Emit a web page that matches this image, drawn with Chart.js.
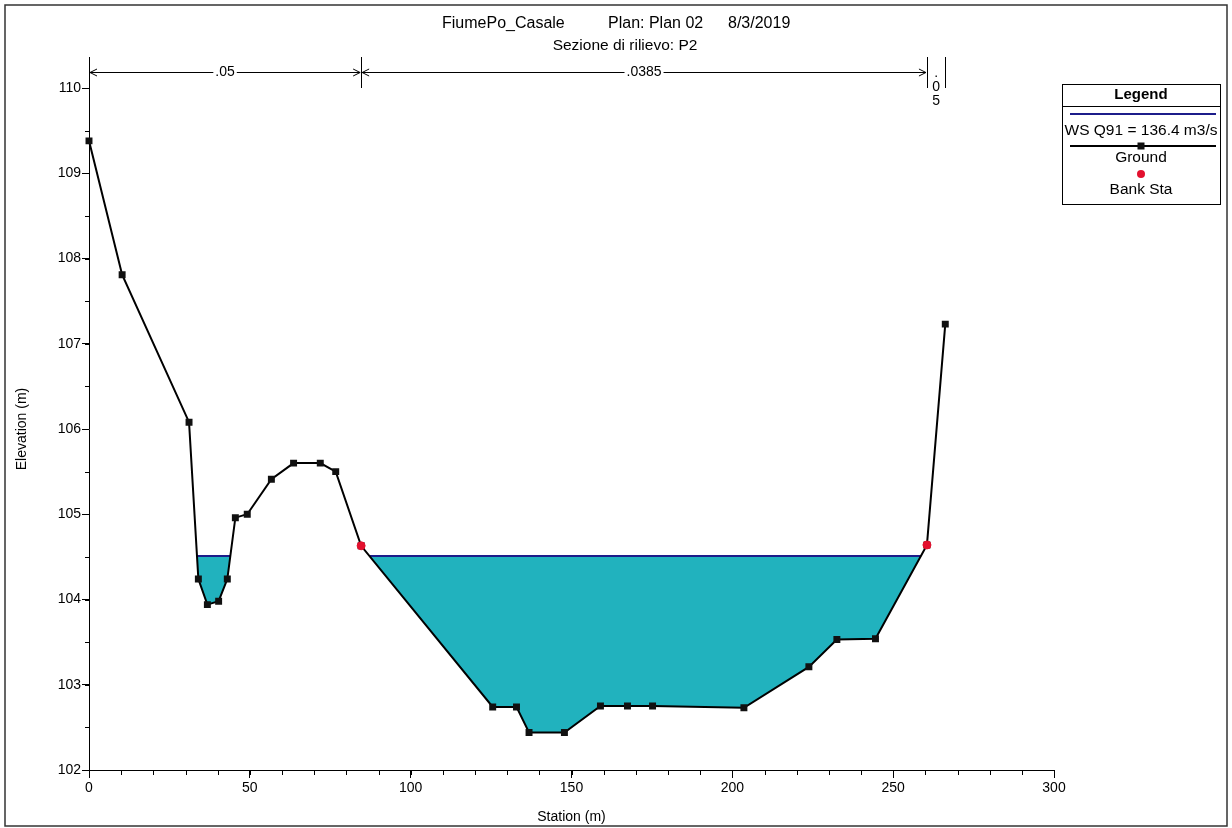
<!DOCTYPE html>
<html>
<head>
<meta charset="utf-8">
<title>FiumePo_Casale - Sezione P2</title>
<script src="https://cdn.jsdelivr.net/npm/chart.js@4/dist/chart.umd.min.js"></script>
<style>
  body { margin: 0; background: #fff; }
  #wrap { width: 1232px; height: 828px; position: relative; }
</style>
</head>
<body>
<div id="wrap"><canvas id="xsChart"></canvas></div>
<script>
// ground profile (station m, elevation m)
const stations   = [0, 10.3, 31.1, 34.0, 36.8, 40.3, 43.0, 45.5, 49.2, 56.7, 63.6, 71.9, 76.7, 84.6,
                    125.5, 132.9, 136.8, 147.8, 159.0, 167.4, 175.2, 203.6, 223.8, 232.5, 244.5, 260.5, 266.2];
const elevations = [109.38, 107.81, 106.08, 104.24, 103.94, 103.98, 104.24, 104.96, 105.00, 105.41, 105.60, 105.60, 105.50, 104.63,
                    102.74, 102.74, 102.44, 102.44, 102.75, 102.75, 102.75, 102.73, 103.21, 103.53, 103.54, 104.64, 107.23];
const bankStations   = [84.6, 260.5];
const bankElevations = [104.63, 104.64];
const wsElevation = 104.51;
const manningN = ['.05', '.0385', '.05'];

const xTicks = [0, 50, 100, 150, 200, 250, 300];
const yTicks = [102, 103, 104, 105, 106, 107, 108, 109, 110];
const xMinorStep = 10;
const yMinorStep = 0.5;

const titleParts = ['FiumePo_Casale', 'Plan: Plan 02', '8/3/2019'];
const subtitle = 'Sezione di rilievo: P2';
const legendLabels = ['WS Q91 = 136.4 m3/s', 'Ground', 'Bank Sta'];

const FONT = "'Liberation Sans', Arial, sans-serif";
const WATER_LINE = '#1c1c8a';
const WATER_FILL = '#21b2be';
const BANK_RED = '#e3102e';

// find where the water surface meets the ground -> wet reaches
function wetReaches() {
  const out = [];
  let start = null;
  for (let i = 0; i < stations.length - 1; i++) {
    const z1 = elevations[i], z2 = elevations[i + 1];
    const cross = (z1 - wsElevation) * (z2 - wsElevation) < 0;
    if (!cross) continue;
    const t = (z1 - wsElevation) / (z1 - z2);
    const x = stations[i] + t * (stations[i + 1] - stations[i]);
    if (z1 > wsElevation) start = x;
    else if (start !== null) { out.push([start, x]); start = null; }
  }
  return out;
}

const groundData = stations.map((s, i) => ({ x: s, y: elevations[i] }));
const bankData = bankStations.map((s, i) => ({ x: s, y: bankElevations[i] }));

const datasets = [{
  label: 'Ground',
  data: groundData,
  showLine: true,
  borderColor: '#000',
  borderWidth: 2,
  pointStyle: 'rect',
  pointRadius: 3.5,
  pointBackgroundColor: '#111',
  pointBorderColor: '#111',
  tension: 0,
  clip: false,
  order: 1
}];

wetReaches().forEach(r => {
  datasets.push({
    label: 'WS',
    data: [{ x: r[0], y: wsElevation }, { x: r[1], y: wsElevation }],
    showLine: true,
    borderColor: WATER_LINE,
    borderWidth: 2,
    pointRadius: 0,
    backgroundColor: WATER_FILL,
    fill: { target: 0, above: WATER_FILL, below: WATER_FILL },
    order: 2
  });
});

datasets.push({
  label: 'Bank Sta',
  data: bankData,
  showLine: false,
  pointStyle: 'circle',
  pointRadius: 4,
  pointBackgroundColor: BANK_RED,
  pointBorderColor: BANK_RED,
  clip: false,
  order: 0
});

const decorPlugin = {
  id: 'decor',
  beforeDraw(chart) {
    const ctx = chart.ctx;
    ctx.save();
    ctx.fillStyle = '#fff';
    ctx.fillRect(0, 0, chart.width, chart.height);
    ctx.restore();
  },
  afterDraw(chart) {
    const ctx = chart.ctx;
    const area = chart.chartArea;
    const xs = chart.scales.x, ys = chart.scales.y;
    ctx.save();

    // minor ticks
    ctx.strokeStyle = '#000';
    ctx.lineWidth = 1;
    ctx.beginPath();
    for (let v = xs.min; v <= xs.max + 1e-9; v += xMinorStep) {
      const px = Math.round(xs.getPixelForValue(v)) + 0.5;
      ctx.moveTo(px, area.bottom);
      ctx.lineTo(px, area.bottom + 5);
    }
    for (let v = ys.min; v <= ys.max + 1e-9; v += yMinorStep) {
      const py = Math.round(ys.getPixelForValue(v)) + 0.5;
      ctx.moveTo(area.left - 4, py);
      ctx.lineTo(area.left, py);
    }
    ctx.stroke();

    // title
    ctx.fillStyle = '#000';
    ctx.textBaseline = 'middle';
    ctx.textAlign = 'left';
    ctx.font = '16px ' + FONT;
    const tx = [442, 608, 728];
    titleParts.forEach((t, i) => ctx.fillText(t, tx[i], 24));
    ctx.font = '15.5px ' + FONT;
    ctx.textAlign = 'center';
    ctx.fillText(subtitle, 625, 46);

    // manning n regions along the top
    const edges = [stations[0], bankStations[0], bankStations[1], stations[stations.length - 1]];
    const ePx = edges.map(e => xs.getPixelForValue(e));
    const yTop = area.top - 31, yArr = area.top - 16;
    ctx.beginPath();
    ePx.forEach(px => {
      const p = Math.round(px) + 0.5;
      ctx.moveTo(p, yTop);
      ctx.lineTo(p, area.top);
    });
    ctx.stroke();
    ctx.font = '14px ' + FONT;
    for (let i = 0; i < manningN.length; i++) {
      const a = ePx[i], b = ePx[i + 1];
      const label = manningN[i];
      const w = ctx.measureText(label).width;
      const mid = (a + b) / 2;
      if (b - a > w + 30) {
        ctx.beginPath();
        ctx.moveTo(a + 1, yArr + 0.5); ctx.lineTo(mid - w / 2 - 2, yArr + 0.5);
        ctx.moveTo(mid + w / 2 + 2, yArr + 0.5); ctx.lineTo(b - 1, yArr + 0.5);
        // arrowheads
        ctx.moveTo(a + 8, yArr - 3); ctx.lineTo(a + 1, yArr + 0.5); ctx.lineTo(a + 8, yArr + 4);
        ctx.moveTo(b - 8, yArr - 3); ctx.lineTo(b - 1, yArr + 0.5); ctx.lineTo(b - 8, yArr + 4);
        ctx.stroke();
        ctx.textAlign = 'center';
        ctx.fillText(label, mid, yArr);
      } else {
        ctx.textAlign = 'center';
        label.split('').forEach((ch, k) => ctx.fillText(ch, mid, yArr + 1 + k * 14));
      }
    }

    // legend box
    const lx = area.right + 8, ly = area.top - 4, lw = 158, lh = 120;
    const cx = lx + lw / 2;
    ctx.lineWidth = 1;
    ctx.strokeStyle = '#000';
    ctx.strokeRect(lx + 0.5, ly + 0.5, lw, lh);
    ctx.beginPath();
    ctx.moveTo(lx, ly + 22.5); ctx.lineTo(lx + lw, ly + 22.5);
    ctx.stroke();
    ctx.font = 'bold 15px ' + FONT;
    ctx.fillText('Legend', cx, ly + 11);
    ctx.font = '15.5px ' + FONT;
    // WS
    ctx.strokeStyle = WATER_LINE; ctx.lineWidth = 2;
    ctx.beginPath(); ctx.moveTo(lx + 8, ly + 30); ctx.lineTo(lx + lw - 4, ly + 30); ctx.stroke();
    ctx.fillText(legendLabels[0], cx, ly + 47);
    // Ground
    ctx.strokeStyle = '#000';
    ctx.beginPath(); ctx.moveTo(lx + 8, ly + 62); ctx.lineTo(lx + lw - 4, ly + 62); ctx.stroke();
    ctx.fillStyle = '#111';
    ctx.fillRect(cx - 3.5, ly + 58.5, 7, 7);
    ctx.fillStyle = '#000';
    ctx.fillText(legendLabels[1], cx, ly + 74);
    // Bank
    ctx.fillStyle = BANK_RED;
    ctx.beginPath(); ctx.arc(cx, ly + 90, 4, 0, Math.PI * 2); ctx.fill();
    ctx.fillStyle = '#000';
    ctx.fillText(legendLabels[2], cx, ly + 106);

    // outer frame
    ctx.strokeStyle = '#333';
    ctx.lineWidth = 1.5;
    ctx.strokeRect(5, 5, chart.width - 10, chart.height - 7);
    ctx.restore();
  }
};

new Chart(document.getElementById('xsChart'), {
  type: 'scatter',
  data: { datasets },
  options: {
    responsive: true,
    maintainAspectRatio: false,
    animation: false,
    layout: { padding: { top: 88, right: 178, bottom: 2, left: 14 } },
    plugins: {
      legend: { display: false },
      tooltip: { enabled: false },
      filler: { propagate: false }
    },
    scales: {
      x: {
        type: 'linear',
        min: xTicks[0],
        max: xTicks[xTicks.length - 1],
        afterBuildTicks: s => { s.ticks = xTicks.map(v => ({ value: v })); },
        afterFit: s => { s.height = 56; },
        ticks: { color: '#000', font: { family: FONT, size: 14 }, padding: 2, maxRotation: 0 },
        grid: { drawOnChartArea: false, drawTicks: true, tickLength: 8, color: '#000' },
        border: { color: '#000', width: 1 },
        title: { display: true, text: 'Station (m)', color: '#000', font: { family: FONT, size: 14 }, padding: { top: 10, bottom: 0 } }
      },
      y: {
        type: 'linear',
        min: yTicks[0],
        max: yTicks[yTicks.length - 1],
        afterBuildTicks: s => { s.ticks = yTicks.map(v => ({ value: v })); },
        afterFit: s => { s.width = 75; },
        ticks: { color: '#000', font: { family: FONT, size: 14 }, padding: 1 },
        grid: { drawOnChartArea: false, drawTicks: true, tickLength: 7, color: '#000' },
        border: { color: '#000', width: 1 },
        title: { display: true, text: 'Elevation (m)', color: '#000', font: { family: FONT, size: 14 }, padding: { top: 0, bottom: 8 } }
      }
    }
  },
  plugins: [decorPlugin]
});
</script>
</body>
</html>
